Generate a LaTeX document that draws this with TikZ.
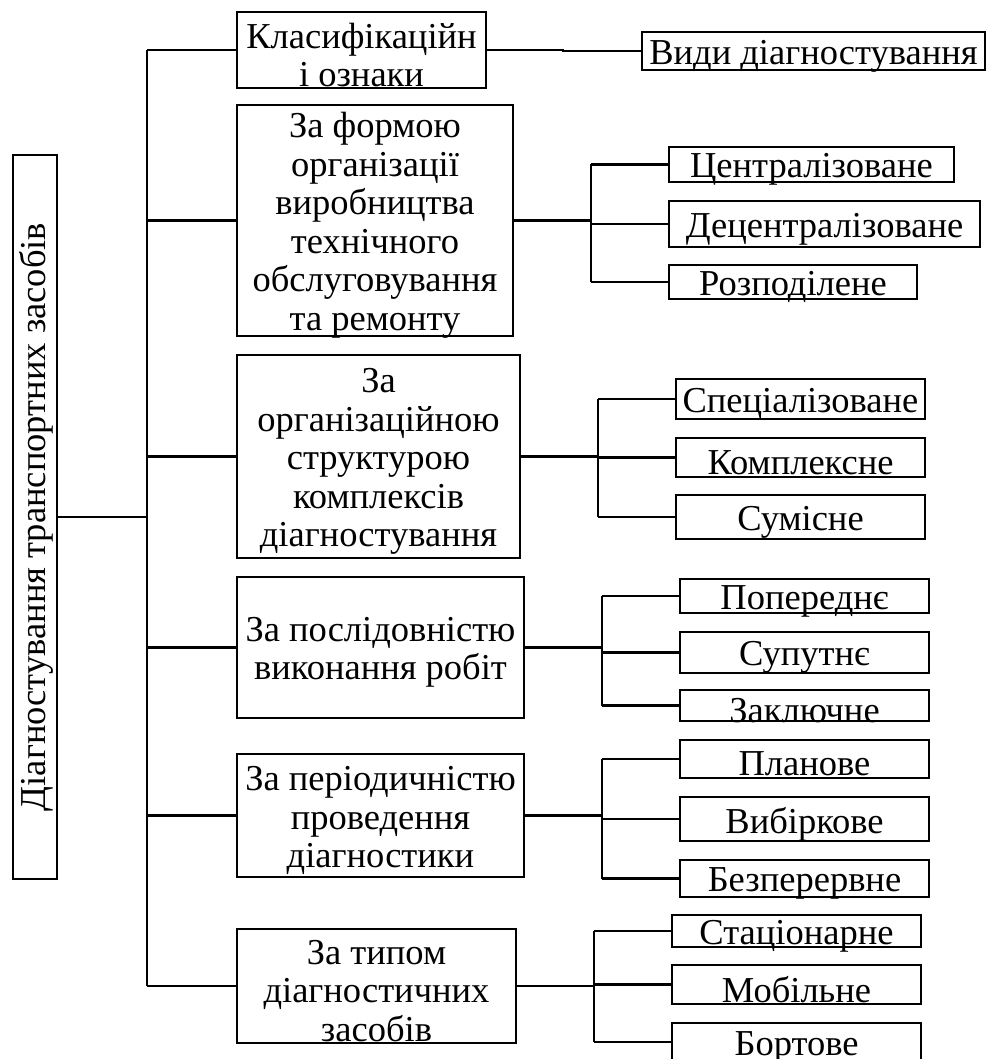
\documentclass[tikz,border=0pt]{standalone}
\usepackage{fontspec}
\setmainfont{Liberation Serif}
\newcommand\mybox[6]{%
  \node[box, minimum width=#4pt, minimum height=#5pt] (#1) at (#2,#3) {};
  \node[txt] (#1t) at ([yshift=-5pt]#1.center) {#6};}
\begin{document}
\begin{tikzpicture}[x=1pt,y=-1pt,
  every node/.style={inner sep=0pt, outer sep=0pt},
  txt/.style={font=\fontsize{36.5}{38.5}\selectfont, align=center},
  box/.style={draw, line width=2.9pt, rectangle},
  conn/.style={line width=2.9pt}]
\useasboundingbox (0,0) rectangle (990,1059);
\begin{scope}
\clip (0,0) rectangle (990,1059);
% main vertical box
\node[box, minimum width=44pt, minimum height=724pt] (main) at (35,517) {};
\node[txt, rotate=90] (maintext) at ([xshift=1pt]main.center) {Діагностування транспортних засобів};
% middle boxes
\mybox{m1}{361.5}{50}{249}{76}{Класифікаційн\\і ознаки}
\mybox{m2}{375}{220.5}{276}{231}{За формою\\організації\\виробництва\\технічного\\обслуговування\\та ремонту}
\mybox{m3}{378.5}{456.5}{283}{203}{За\\організаційною\\структурою\\комплексів\\діагностування}
\mybox{m4}{380.5}{647.5}{287}{141}{За послідовністю\\виконання робіт}
\mybox{m5}{380.5}{815.5}{287}{123}{За періодичністю\\проведення\\діагностики}
\mybox{m6}{376.5}{986}{279}{114}{За типом\\діагностичних\\засобів}
% right boxes
\mybox{v1}{813.5}{51}{343}{38}{Види діагностування}
\mybox{c21}{811.5}{164.5}{285}{35}{Централізоване}
\mybox{c22}{824.5}{224}{311}{46}{Децентралізоване}
\mybox{c23}{793}{282}{248}{34}{Розподілене}
\mybox{c31}{800.5}{399}{249}{40}{Спеціалізоване}
\mybox{c32}{800.5}{457.5}{249}{39}{Комплексне}
\mybox{c33}{800.5}{517}{249}{44}{Сумісне}
\mybox{c41}{804.5}{596}{249}{34}{Попереднє}
\mybox{c42}{804.5}{652.5}{249}{41}{Супутнє}
\mybox{c43}{804.5}{705.5}{249}{31}{Заключне}
\mybox{c51}{804.5}{759}{249}{38}{Планове}
\mybox{c52}{804.5}{819}{249}{44}{Вибіркове}
\mybox{c53}{804.5}{878.5}{249}{37}{Безперервне}
\mybox{c61}{796.5}{931}{249}{32}{Стаціонарне}
\mybox{c62}{796.5}{984.5}{249}{39}{Мобільне}
\mybox{c63}{796.5}{1042}{249}{38}{Бортове}
% trunk coordinates
\coordinate (tr) at (147,0);
\coordinate (s2) at (591,0);
\coordinate (s3) at (598,0);
\coordinate (s4) at (602,0);
\coordinate (s5) at (602,0);
\coordinate (s6) at (594,0);
\coordinate (k1) at (563,50);
% main trunk
\draw[conn] (main.east) -- (main.east -| tr);
\draw[conn] (m1.west -| tr) -- (m6.west -| tr);
\foreach \m in {m1,m2,m3,m4,m5,m6} \draw[conn] (\m.west -| tr) -- (\m.west);
% group 1
\draw[conn] (m1.east) -- (k1) |- (v1.west);
% groups 2-6
\foreach \g/\s in {2/s2,3/s3,4/s4,5/s5,6/s6}{
  \draw[conn] (m\g.east) -- (m\g.east -| \s);
  \draw[conn] (c\g1.west -| \s) -- (c\g3.west -| \s);
  \foreach \k in {1,2,3} \draw[conn] (c\g\k.west -| \s) -- (c\g\k.west);
}
\end{scope}
\end{tikzpicture}
\end{document}
